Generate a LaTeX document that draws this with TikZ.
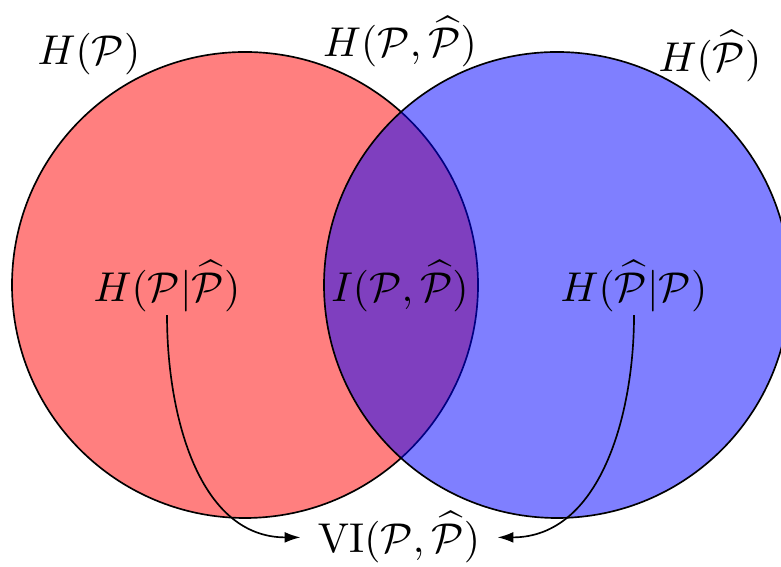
\documentclass[tikz,border=0pt]{standalone}
\usepackage{amsmath,amssymb}
\usetikzlibrary{arrows.meta}
\begin{document}
\begin{tikzpicture}[x=0.24pt,y=-0.24pt,
  setcircle/.style={draw=black,line width=0.4pt,fill opacity=0.5},
  lbl/.style={anchor=base,inner sep=2pt},
  link/.style={-{Latex[length=3.8pt,width=2.6pt]},line width=0.4pt}]
  \useasboundingbox (0,0) rectangle (781,567);
  % the two entropy sets
  \path[setcircle,fill=red] (245,285) circle[radius=233];
  \path[setcircle,fill=blue] (557,285) circle[radius=233];
  % labels
  \node[lbl] (hp)  at (89,64.5)  {$H(\mathcal{P})$};
  \node[lbl] (hpq) at (400,57)   {$H(\mathcal{P},\widehat{\mathcal{P}})$};
  \node[lbl] (hq)  at (710,71.5) {$H(\widehat{\mathcal{P}})$};
  \node[lbl] (hpc) at (167,301.5) {$H(\mathcal{P}|\widehat{\mathcal{P}})$};
  \node[lbl] (mi)  at (400,301.5) {$I(\mathcal{P},\widehat{\mathcal{P}})$};
  \node[lbl] (hqc) at (634,301.5) {$H(\widehat{\mathcal{P}}|\mathcal{P})$};
  \node[lbl] (vi)  at (399,552.5) {$\mathrm{VI}(\mathcal{P},\widehat{\mathcal{P}})$};
  % conditional entropies add up to the variation of information
  \draw[link] (hpc.south) ++(0,-6) coordinate (s1)
    (s1) to[out=-90,in=180] ([xshift=-2pt]vi.west);
  \draw[link] (hqc.south) ++(0,-6) coordinate (s2)
    (s2) to[out=-90,in=0] ([xshift=2pt]vi.east);
\end{tikzpicture}
\end{document}
